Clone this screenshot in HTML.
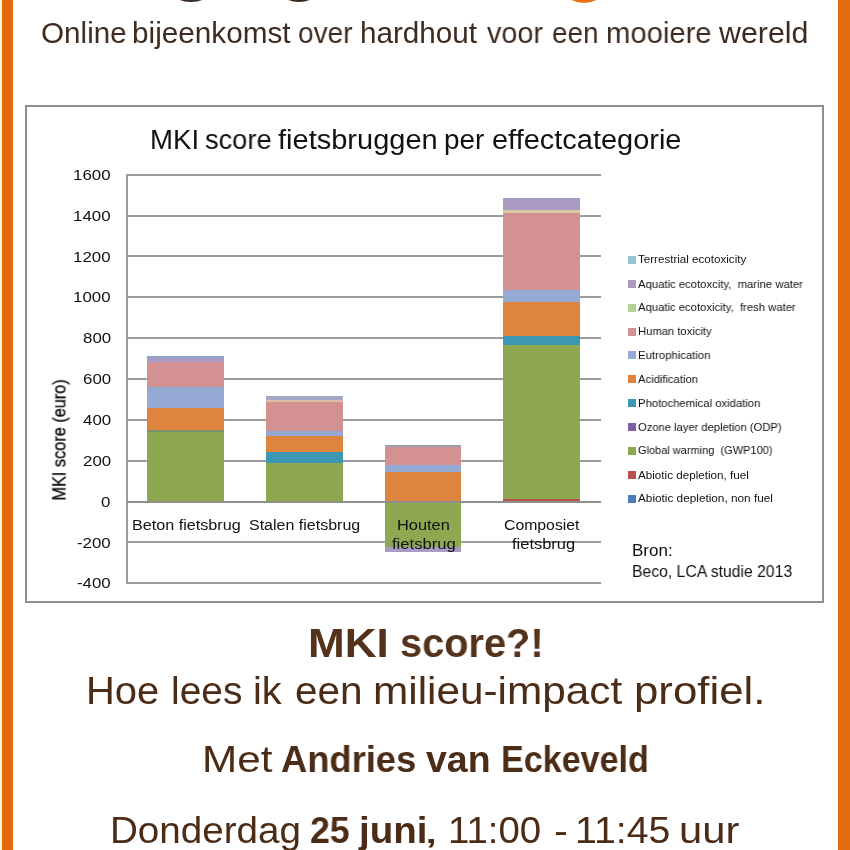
<!DOCTYPE html>
<html><head><meta charset="utf-8"><title>MKI score</title>
<style>
html,body{margin:0;padding:0}
body{width:850px;height:850px;position:relative;overflow:hidden;background:#fff;font-family:"Liberation Sans",sans-serif}
.t{position:absolute;white-space:nowrap;line-height:1;transform-origin:0 0;will-change:transform}
.b{position:absolute}
.g{position:absolute;left:126px;width:475px;height:2px;background:#9b9b9b}
</style></head><body>
<div class="b" style="left:0;top:0;width:1.5px;height:850px;background:#fdf3dc"></div>
<div class="b" style="left:1.5px;top:0;width:11.5px;height:850px;background:#e5690d"></div>
<div class="b" style="left:838.3px;top:0;width:11.7px;height:850px;background:#e5690d"></div>
<!-- logo fragments -->
<div class="b" style="left:174px;top:-14px;width:34px;height:16.2px;border-radius:50%;background:#3a2a20"></div>
<div class="b" style="left:283px;top:-14px;width:32px;height:16.2px;border-radius:50%;background:#3a2a20"></div>
<div class="b" style="left:568px;top:-14px;width:32px;height:16.8px;border-radius:50%;background:#e8740f"></div>
<!-- chart frame -->
<div class="b" style="left:25.2px;top:105.2px;width:794.8px;height:493.6px;border:2px solid #8f8f8f;background:#fff"></div>
<div class="g" style="top:173.70px"></div><div class="g" style="top:214.55px"></div><div class="g" style="top:255.40px"></div><div class="g" style="top:296.25px"></div><div class="g" style="top:337.10px"></div><div class="g" style="top:377.95px"></div><div class="g" style="top:418.80px"></div><div class="g" style="top:459.65px"></div><div class="g" style="top:500.50px"></div><div class="g" style="top:541.35px"></div><div class="g" style="top:582.20px"></div>
<div class="b" style="left:126px;top:174px;width:2px;height:410px;background:#9b9b9b"></div>
<div class="b" style="left:146.8px;width:77.3px;top:356.0px;height:145.5px;background:linear-gradient(to bottom,#8da4c6 0.0px,#8da4c6 2.4px,#a99bc4 2.4px,#a99bc4 5.9px,#d39291 5.9px,#d39291 31.3px,#94a9d4 31.3px,#94a9d4 51.8px,#df843f 51.8px,#df843f 74.2px,#7d9270 74.2px,#7d9270 76.0px,#8da851 76.0px,#8da851 145.5px)"></div><div class="b" style="left:266.3px;width:76.6px;top:396.4px;height:105.1px;background:linear-gradient(to bottom,#a2a8c9 0.0px,#a2a8c9 3.7px,#e0bca8 3.7px,#e0bca8 5.8px,#d39291 5.8px,#d39291 34.9px,#94a9d4 34.9px,#94a9d4 40.4px,#df843f 40.4px,#df843f 55.5px,#3c97b3 55.5px,#3c97b3 67.2px,#8da851 67.2px,#8da851 105.1px)"></div><div class="b" style="left:385.0px;width:76.0px;top:445.2px;height:107.0px;background:linear-gradient(to bottom,#9aa0a8 0.0px,#9aa0a8 2.2px,#d39291 2.2px,#d39291 19.8px,#94a9d4 19.8px,#94a9d4 27.2px,#df843f 27.2px,#df843f 56.3px,#8da851 56.3px,#8da851 102.4px,#a99bc4 102.4px,#a99bc4 107.0px)"></div><div class="b" style="left:503.1px;width:76.6px;top:198.0px;height:303.5px;background:linear-gradient(to bottom,#a99bc4 0.0px,#a99bc4 11.7px,#d7c9a0 11.7px,#d7c9a0 15.1px,#d39291 15.1px,#d39291 91.7px,#94a9d4 91.7px,#94a9d4 103.8px,#df843f 103.8px,#df843f 137.8px,#3c97b3 137.8px,#3c97b3 146.7px,#8da851 146.7px,#8da851 300.7px,#bd4d4a 300.7px,#bd4d4a 303.5px)"></div><div class="b" style="left:126px;width:475px;top:500.50px;height:2px;background:#8f8f8a"></div>
<div class="b" style="left:628px;width:8px;top:255.9px;height:8px;background:#93c6d7"></div><div class="b" style="left:628px;width:8px;top:279.8px;height:8px;background:#a99bc4"></div><div class="b" style="left:628px;width:8px;top:303.7px;height:8px;background:#b6cf96"></div><div class="b" style="left:628px;width:8px;top:327.5px;height:8px;background:#d39291"></div><div class="b" style="left:628px;width:8px;top:351.4px;height:8px;background:#94a9d4"></div><div class="b" style="left:628px;width:8px;top:375.3px;height:8px;background:#df843f"></div><div class="b" style="left:628px;width:8px;top:399.2px;height:8px;background:#3c97b3"></div><div class="b" style="left:628px;width:8px;top:423.1px;height:8px;background:#7e60a1"></div><div class="b" style="left:628px;width:8px;top:446.9px;height:8px;background:#8da851"></div><div class="b" style="left:628px;width:8px;top:470.8px;height:8px;background:#bd4d4a"></div><div class="b" style="left:628px;width:8px;top:494.7px;height:8px;background:#4a7ab7"></div>
<div class="t" style="left:40.50px;top:18.00px;font-size:29.65px;color:#3e2b1f;transform:scaleX(0.9982)">Online</div>
<div class="t" style="left:132.09px;top:18.00px;font-size:29.65px;color:#3e2b1f;transform:scaleX(1.0026)">bijeenkomst</div>
<div class="t" style="left:297.62px;top:18.00px;font-size:29.65px;color:#3e2b1f;transform:scaleX(0.9464)">over</div>
<div class="t" style="left:360.40px;top:18.00px;font-size:29.65px;color:#3e2b1f;transform:scaleX(0.9996)">hardhout</div>
<div class="t" style="left:486.76px;top:18.00px;font-size:29.65px;color:#3e2b1f;transform:scaleX(0.9719)">voor</div>
<div class="t" style="left:552.42px;top:18.00px;font-size:29.65px;color:#3e2b1f;transform:scaleX(0.9405)">een</div>
<div class="t" style="left:605.73px;top:18.00px;font-size:29.65px;color:#3e2b1f;transform:scaleX(0.9860)">mooiere</div>
<div class="t" style="left:718.80px;top:18.00px;font-size:29.65px;color:#3e2b1f;transform:scaleX(1.0246)">wereld</div>
<div class="t" style="left:150.05px;top:125.60px;font-size:27.62px;color:#111;transform:scaleX(0.9989)">MKI</div>
<div class="t" style="left:204.56px;top:125.60px;font-size:27.62px;color:#111;transform:scaleX(0.9863)">score</div>
<div class="t" style="left:277.87px;top:125.60px;font-size:27.62px;color:#111;transform:scaleX(1.0511)">fietsbruggen</div>
<div class="t" style="left:443.63px;top:125.60px;font-size:27.62px;color:#111;transform:scaleX(1.0093)">per</div>
<div class="t" style="left:491.79px;top:125.60px;font-size:27.62px;color:#111;transform:scaleX(1.0491)">effectcategorie</div>
<div class="t" style="left:73.25px;top:167.90px;font-size:14.84px;color:#111;transform:scaleX(1.1370)">1600</div>
<div class="t" style="left:73.25px;top:208.75px;font-size:14.84px;color:#111;transform:scaleX(1.1370)">1400</div>
<div class="t" style="left:73.25px;top:249.60px;font-size:14.84px;color:#111;transform:scaleX(1.1370)">1200</div>
<div class="t" style="left:73.25px;top:290.45px;font-size:14.84px;color:#111;transform:scaleX(1.1370)">1000</div>
<div class="t" style="left:82.63px;top:331.30px;font-size:14.84px;color:#111;transform:scaleX(1.1370)">800</div>
<div class="t" style="left:82.63px;top:372.15px;font-size:14.84px;color:#111;transform:scaleX(1.1370)">600</div>
<div class="t" style="left:82.63px;top:413.00px;font-size:14.84px;color:#111;transform:scaleX(1.1370)">400</div>
<div class="t" style="left:82.63px;top:453.85px;font-size:14.84px;color:#111;transform:scaleX(1.1370)">200</div>
<div class="t" style="left:101.39px;top:494.70px;font-size:14.84px;color:#111;transform:scaleX(1.1370)">0</div>
<div class="t" style="left:77.23px;top:535.55px;font-size:14.84px;color:#111;transform:scaleX(1.1370)">-200</div>
<div class="t" style="left:77.23px;top:576.40px;font-size:14.84px;color:#111;transform:scaleX(1.1370)">-400</div>
<div class="t" style="left:0;top:0;font-size:18.90px;color:#111;-webkit-text-stroke:0.35px #111;transform:translate(50.40px,500.59px) rotate(-90deg) scaleX(0.8630)">MKI score (euro)</div>
<div class="t" style="left:131.51px;top:517.80px;font-size:14.53px;color:#111;transform:scaleX(1.1131)">Beton fietsbrug</div>
<div class="t" style="left:249.17px;top:517.80px;font-size:14.53px;color:#111;transform:scaleX(1.1023)">Stalen fietsbrug</div>
<div class="t" style="left:396.79px;top:517.80px;font-size:14.53px;color:#111;transform:scaleX(1.1285)">Houten</div>
<div class="t" style="left:391.92px;top:535.80px;font-size:15.12px;color:#111;transform:scaleX(1.1013)">fietsbrug</div>
<div class="t" style="left:503.98px;top:517.80px;font-size:14.53px;color:#111;transform:scaleX(1.0876)">Composiet</div>
<div class="t" style="left:511.63px;top:535.80px;font-size:15.12px;color:#111;transform:scaleX(1.0890)">fietsbrug</div>
<div class="t" style="left:638.05px;top:254.30px;font-size:11.48px;color:#111;transform:scaleX(1.0108)">Terrestrial ecotoxicity</div>
<div class="t" style="left:638.30px;top:278.60px;font-size:11.48px;color:#111;transform:scaleX(0.9848)">Aquatic ecotoxcity,&nbsp; marine water</div>
<div class="t" style="left:638.30px;top:302.40px;font-size:11.48px;color:#111;transform:scaleX(0.9835)">Aquatic ecotoxicity,&nbsp; fresh water</div>
<div class="t" style="left:638.02px;top:326.10px;font-size:11.48px;color:#111;transform:scaleX(0.9791)">Human toxicity</div>
<div class="t" style="left:638.01px;top:350.10px;font-size:11.48px;color:#111;transform:scaleX(0.9888)">Eutrophication</div>
<div class="t" style="left:638.30px;top:374.10px;font-size:11.48px;color:#111;transform:scaleX(0.9802)">Acidification</div>
<div class="t" style="left:638.12px;top:397.80px;font-size:11.48px;color:#111;transform:scaleX(0.9845)">Photochemical oxidation</div>
<div class="t" style="left:638.11px;top:421.60px;font-size:11.48px;color:#111;transform:scaleX(0.9747)">Ozone layer depletion (ODP)</div>
<div class="t" style="left:638.12px;top:445.40px;font-size:11.48px;color:#111;transform:scaleX(0.9590)">Global warming&nbsp; (GWP100)</div>
<div class="t" style="left:638.40px;top:469.60px;font-size:11.48px;color:#111;transform:scaleX(1.0162)">Abiotic depletion, fuel</div>
<div class="t" style="left:638.40px;top:493.30px;font-size:11.48px;color:#111;transform:scaleX(1.0268)">Abiotic depletion, non fuel</div>
<div class="t" style="left:631.89px;top:541.70px;font-size:16.28px;color:#111;transform:scaleX(1.0483)">Bron:</div>
<div class="t" style="left:631.99px;top:563.00px;font-size:16.28px;color:#111;transform:scaleX(0.9676)">Beco, LCA studie 2013</div>
<div class="t" style="left:307.62px;top:623.20px;font-size:40.70px;color:#54321b;font-weight:bold;transform:scaleX(1.0826)">MKI</div>
<div class="t" style="left:399.73px;top:623.20px;font-size:40.70px;color:#54321b;font-weight:bold;transform:scaleX(0.9767)">score?!</div>
<div class="t" style="left:86.47px;top:672.30px;font-size:38.95px;color:#4b2c17;transform:scaleX(1.0256)">Hoe</div>
<div class="t" style="left:171.25px;top:672.30px;font-size:38.95px;color:#4b2c17;transform:scaleX(0.9993)">lees</div>
<div class="t" style="left:253.45px;top:672.30px;font-size:38.95px;color:#4b2c17;transform:scaleX(1.0196)">ik</div>
<div class="t" style="left:294.98px;top:672.30px;font-size:38.95px;color:#4b2c17;transform:scaleX(1.0403)">een</div>
<div class="t" style="left:373.08px;top:672.30px;font-size:38.95px;color:#4b2c17;transform:scaleX(1.0865)">milieu-impact</div>
<div class="t" style="left:633.89px;top:672.30px;font-size:38.95px;color:#4b2c17;transform:scaleX(1.1251)">profiel.</div>
<div class="t" style="left:201.74px;top:741.90px;font-size:36.63px;color:#4b2c17;transform:scaleX(1.1532)">Met</div>
<div class="t" style="left:281.31px;top:741.90px;font-size:36.63px;color:#4b2c17;font-weight:bold;transform:scaleX(0.9921)">Andries</div>
<div class="t" style="left:426.44px;top:741.90px;font-size:36.63px;color:#4b2c17;font-weight:bold;transform:scaleX(1.0231)">van</div>
<div class="t" style="left:501.17px;top:741.90px;font-size:36.63px;color:#4b2c17;font-weight:bold;transform:scaleX(0.9305)">Eckeveld</div>
<div class="t" style="left:110.44px;top:812.60px;font-size:36.63px;color:#4b2c17;transform:scaleX(1.0538)">Donderdag</div>
<div class="t" style="left:309.98px;top:812.60px;font-size:36.63px;color:#4b2c17;font-weight:bold;transform:scaleX(0.9766)">25</div>
<div class="t" style="left:359.03px;top:812.60px;font-size:36.63px;color:#4b2c17;font-weight:bold;transform:scaleX(1.0524)">juni</div>
<div class="t" style="left:423.40px;top:812.60px;font-size:36.63px;color:#4b2c17;transform:scaleX(1.6000)">,</div>
<div class="t" style="left:448.32px;top:812.60px;font-size:36.63px;color:#4b2c17;transform:scaleX(1.0478)">11:00</div>
<div class="t" style="left:554.00px;top:812.60px;font-size:36.63px;color:#4b2c17;transform:scaleX(1.1429)">-</div>
<div class="t" style="left:575.05px;top:812.60px;font-size:36.63px;color:#4b2c17;transform:scaleX(1.0714)">11:45</div>
<div class="t" style="left:679.15px;top:812.60px;font-size:36.63px;color:#4b2c17;transform:scaleX(1.1397)">uur</div>
</body></html>
